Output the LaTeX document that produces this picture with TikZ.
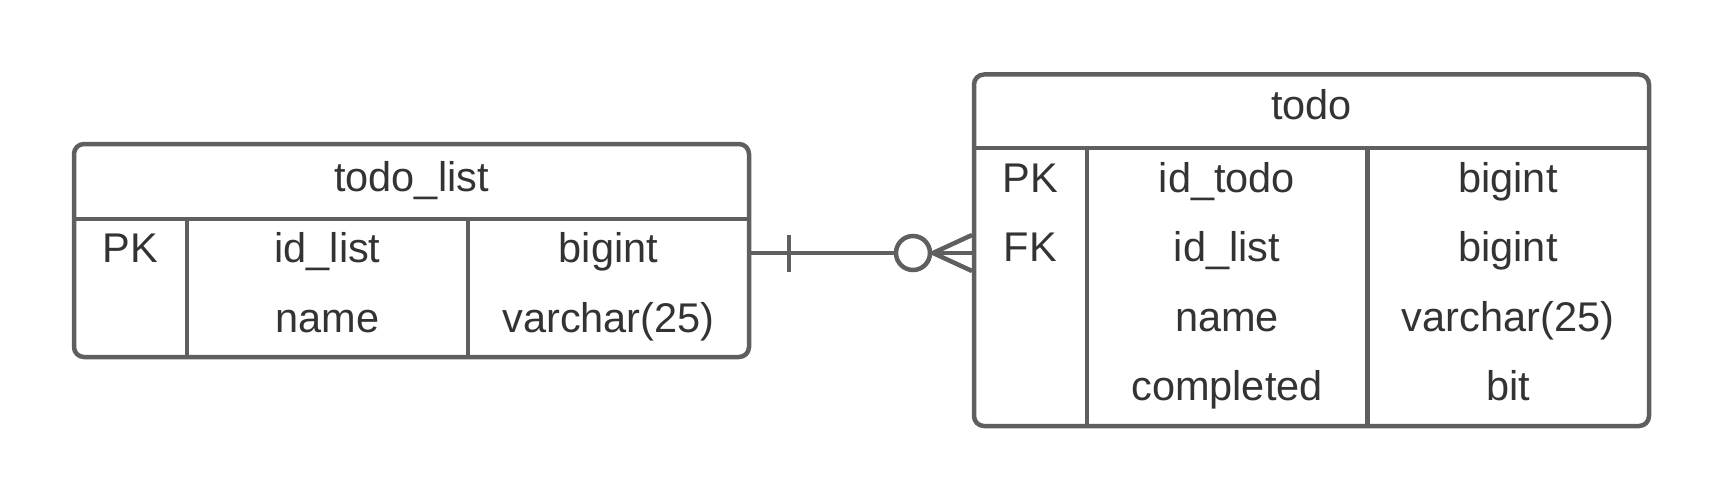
\documentclass[tikz,border=0pt]{standalone}
\usepackage{fontspec}
\setmainfont{Liberation Sans}
\begin{document}
\begin{tikzpicture}[x=1pt,y=-1pt,
  ln/.style={draw=lncol, line width=4.5pt},
  tbl/.style={ln, rounded corners=10pt, inner sep=0pt, fill=white},
  txt/.style={text=txtcol, anchor=base, inner sep=0pt, font=\fontsize{41.5}{48}\selectfont}]
\definecolor{lncol}{HTML}{5F5F5F}
\definecolor{txtcol}{HTML}{333333}
\useasboundingbox (0,0) rectangle (1725,503);
% left table
\node[tbl, minimum width=675pt, minimum height=213pt] (tl) at (411.5,250.5) {};
\draw[ln] (74,219) -- (749,219);
\draw[ln] (187,219) -- (187,357);
\draw[ln] (468,219) -- (468,357);
\coordinate (lr1) at (749,253);
\node[txt] (tlh) at (411.5,191) {todo\_list};
\node[txt] (tlpk) at (130.5,262) {PK};
\node[txt] (tla1) at (327.5,262) {id\_list};
\node[txt] (tlb1) at (608.5,262) {bigint};
\node[txt] (tla2) at (327.5,332) {name};
\node[txt] (tlb2) at (608.5,332) {varchar(25)};
% right table
\node[tbl, minimum width=675pt, minimum height=351.5pt] (td) at (1311.5,250.25) {};
\draw[ln] (974,148) -- (1649,148);
\draw[ln] (1087,148) -- (1087,426);
\draw[ln] (1367.5,148) -- (1367.5,426);
\node[txt] (tdh) at (1311.5,120) {todo};
\node[txt] (tdpk) at (1030.5,192) {PK};
\node[txt] (tdfk) at (1030.5,261) {FK};
\node[txt] (tda1) at (1227,192) {id\_todo};
\node[txt] (tdb1) at (1508,192) {bigint};
\node[txt] (tda2) at (1227,261) {id\_list};
\node[txt] (tdb2) at (1508,261) {bigint};
\node[txt] (tda3) at (1227,331) {name};
\node[txt] (tdb3) at (1508,331) {varchar(25)};
\node[txt] (tda4) at (1227,400) {completed};
\node[txt] (tdb4) at (1508,400) {bit};
% relationship
\node[ln, circle, minimum size=34pt, inner sep=0pt] (zero) at (913,253) {};
\coordinate (apex) at (933,253);
\draw[ln] (tl.east |- lr1) -- (zero.west);
\draw[ln] (zero.east) -- (td.west |- apex);
\draw[ln] (789,235) -- (789,272);
\draw[ln] (972,235) -- (apex) -- (972,271);
\end{tikzpicture}
\end{document}
